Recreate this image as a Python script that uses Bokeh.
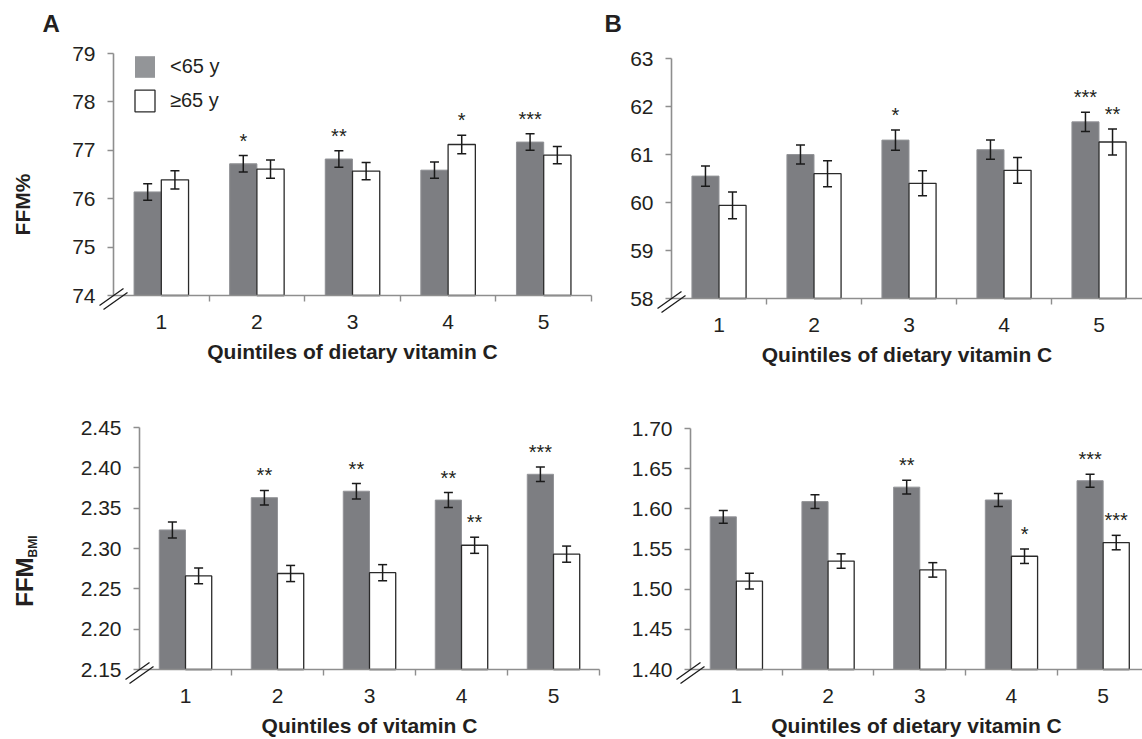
import math
from bokeh.plotting import figure
from bokeh.models import (ColumnDataSource, Range1d, FixedTicker, NumeralTickFormatter,
                          Whisker, TeeHead, Label, Legend, LegendItem, Arrow)
from bokeh.layouts import column, row
from bokeh.core.properties import value
from bokeh.embed import file_html
from bokeh.resources import INLINE

# ---------------- data ----------------
quintiles = ["1", "2", "3", "4", "5"]
group_labels = ["<65 y", "\u226565 y"]

# A, top: FFM%
a_ffm_young = [76.14, 76.72, 76.82, 76.59, 77.17]
a_ffm_young_err = [0.17, 0.17, 0.17, 0.17, 0.17]
a_ffm_old = [76.39, 76.61, 76.57, 77.12, 76.90]
a_ffm_old_err = [0.19, 0.19, 0.18, 0.19, 0.18]
a_ffm_young_sig = ["", "*", "**", "", "***"]
a_ffm_old_sig = ["", "", "", "*", ""]
a_ffm_ticks = [74, 75, 76, 77, 78, 79]

# B, top: FFM%
b_ffm_young = [60.55, 61.00, 61.30, 61.10, 61.68]
b_ffm_young_err = [0.21, 0.20, 0.21, 0.20, 0.20]
b_ffm_old = [59.94, 60.60, 60.40, 60.67, 61.26]
b_ffm_old_err = [0.28, 0.27, 0.26, 0.27, 0.27]
b_ffm_young_sig = ["", "", "*", "", "***"]
b_ffm_old_sig = ["", "", "", "", "**"]
b_ffm_ticks = [58, 59, 60, 61, 62, 63]

# A, bottom: FFM_BMI
a_bmi_young = [2.323, 2.363, 2.371, 2.360, 2.392]
a_bmi_young_err = [0.010, 0.009, 0.0095, 0.0093, 0.009]
a_bmi_old = [2.266, 2.269, 2.270, 2.304, 2.293]
a_bmi_old_err = [0.0097, 0.010, 0.010, 0.010, 0.010]
a_bmi_young_sig = ["", "**", "**", "**", "***"]
a_bmi_old_sig = ["", "", "", "**", ""]
a_bmi_ticks = [2.15, 2.20, 2.25, 2.30, 2.35, 2.40, 2.45]

# B, bottom: FFM_BMI
b_bmi_young = [1.590, 1.609, 1.627, 1.611, 1.635]
b_bmi_young_err = [0.008, 0.0085, 0.0085, 0.008, 0.008]
b_bmi_old = [1.510, 1.535, 1.524, 1.541, 1.558]
b_bmi_old_err = [0.0099, 0.009, 0.009, 0.009, 0.009]
b_bmi_young_sig = ["", "", "**", "", "***"]
b_bmi_old_sig = ["", "", "", "*", "***"]
b_bmi_ticks = [1.40, 1.45, 1.50, 1.55, 1.60, 1.65, 1.70]

# ---------------- style ----------------
FONT = "Liberation Sans"
GRAY = "#7d7e82"
GRAY_EDGE = "#939498"
LEGEND_GRAY = "#939598"
DARK = "#231f20"
AXIS = "#8e8e8e"
BAR_W = 0.285
OFF = BAR_W / 2


def make_panel(young, young_err, old, old_err, young_sig, old_sig, yticks, fmt,
               xlabel, W, H, bl, ft, fh, cat_px):
    """W,H: canvas size; bl: x of axis corner; ft: y of top tick; fh: plot height."""
    xs = [i + 1 for i in range(len(quintiles))]
    ymin, ymax = yticks[0], yticks[-1]
    ppu = fh / (ymax - ymin)
    x_start = 0.5 - bl / cat_px
    x_end = 0.5 + (W - bl) / cat_px
    y_end = ymax + ft / ppu
    y_start = ymin - (H - ft - fh) / ppu
    p = figure(width=W, height=H, x_range=Range1d(x_start, x_end),
               y_range=Range1d(y_start, y_end), output_backend="svg",
               toolbar_location=None, title=None, min_border=0,
               min_border_left=0, min_border_right=0, min_border_top=0,
               min_border_bottom=0, outline_line_color=None)
    p.xgrid.visible = False
    p.ygrid.visible = False

    renderers = []
    sources = []
    for vals, errs, sig, sign, fill, edge, lw in (
            (young, young_err, young_sig, -1, GRAY, GRAY_EDGE, 1),
            (old, old_err, old_sig, 1, "white", "#2a2a2a", 1.3)):
        src = ColumnDataSource(dict(
            x=[x + sign * OFF for x in xs], top=vals,
            up=[v + e for v, e in zip(vals, errs)],
            lo=[v - e for v, e in zip(vals, errs)], sig=sig))
        sources.append(src)
        r = p.vbar(x="x", top="top", bottom=ymin, width=BAR_W, source=src,
                   fill_color=fill, line_color=edge, line_width=lw)
        renderers.append(r)
        wh = Whisker(source=src, base="x", upper="up", lower="lo", dimension="height",
                     line_color="#1a1a1a", line_width=1.5, level="overlay",
                     upper_head=TeeHead(size=9, line_color="#1a1a1a", line_width=1.5),
                     lower_head=TeeHead(size=9, line_color="#1a1a1a", line_width=1.5))
        p.add_layout(wh)
        p.text(x="x", y="up", text="sig", source=src, text_align="center",
               text_baseline="alphabetic", y_offset=-15, text_font=value(FONT),
               text_font_size="20px", text_color=DARK)

    # axes (drawn at fixed data locations so the canvas is all frame)
    xa = p.xaxis[0]
    xa.fixed_location = ymin
    xa.bounds = (0.5, min(len(xs) + 0.5, x_end))
    xa.ticker = FixedTicker(ticks=xs, minor_ticks=[x + 0.5 for x in xs])
    xa.major_label_overrides = {x: q for x, q in zip(xs, quintiles)}
    xa.major_tick_out = 0
    xa.major_tick_in = 0
    xa.minor_tick_out = 6
    xa.minor_tick_in = 0
    xa.major_label_standoff = 13
    xa.axis_label = xlabel
    xa.axis_label_standoff = 8
    xa.axis_label_text_font = FONT
    xa.axis_label_text_font_size = "21px"
    xa.axis_label_text_font_style = "bold"
    xa.axis_label_text_color = DARK

    ya = p.yaxis[0]
    ya.fixed_location = 0.5
    ya.bounds = (ymin, ymax)
    ya.ticker = FixedTicker(ticks=yticks)
    ya.formatter = NumeralTickFormatter(format=fmt)
    ya.major_tick_out = 6
    ya.major_tick_in = 0
    ya.minor_tick_out = 0
    ya.minor_tick_in = 0
    ya.major_label_standoff = 12

    for ax in (xa, ya):
        ax.axis_line_color = AXIS
        ax.axis_line_width = 1.6
        ax.major_tick_line_color = AXIS
        ax.major_tick_line_width = 1.4
        ax.minor_tick_line_color = AXIS
        ax.minor_tick_line_width = 1.4
        ax.major_label_text_font = FONT
        ax.major_label_text_font_size = "21px"
        ax.major_label_text_color = DARK

    # axis break marks "//" at the corner (offsets in pixels from the corner)
    for (sx0, sy0, sx1, sy1) in ((-14, 10, 10, -7), (-10, 14, 14, -3)):
        p.add_layout(Arrow(end=None, x_start=0.5 + sx0 / cat_px, y_start=ymin - sy0 / ppu,
                           x_end=0.5 + sx1 / cat_px, y_end=ymin - sy1 / ppu,
                           line_color="#1a1a1a", line_width=1.3))
    geo = dict(ymin=ymin, ymax=ymax, ppu=ppu, cat_px=cat_px, bl=bl, ft=ft, fh=fh, H=H,
               sources=sources)
    return p, renderers, geo


def panel_letter(p, geo, text, left_px, base_px):
    p.add_layout(Label(x=0.5 + (left_px - geo["bl"]) / geo["cat_px"],
                       y=geo["ymax"] + (geo["ft"] - base_px) / geo["ppu"],
                       text=text, text_align="left", text_baseline="alphabetic",
                       text_font=FONT, text_font_size="24px", text_font_style="bold",
                       text_color=DARK))


# Top-left (A)
p1, r1, g1 = make_panel(
    a_ffm_young, a_ffm_young_err, a_ffm_old, a_ffm_old_err, a_ffm_young_sig,
    a_ffm_old_sig, a_ffm_ticks, "0", "Quintiles of dietary vitamin C",
    600, 385, 113, 53, 242, 95.6)
panel_letter(p1, g1, "A", 42, 23)
p1.add_layout(Label(x=0.5, y=g1["ymin"] + 0.376 * (g1["ymax"] - g1["ymin"]), x_offset=-91,
                    text="FFM%", angle=math.pi / 2, text_align="center",
                    text_baseline="middle", text_font=FONT, text_font_size="21px",
                    text_font_style="bold", text_color=DARK))
# legend swatch for the <65 y group: lighter gray, drawn beneath the identical bars
leg_gray = p1.vbar(x="x", top="top", bottom=g1["ymin"], width=BAR_W,
                   source=g1["sources"][0], fill_color=LEGEND_GRAY, line_color=None,
                   level="underlay")
LEG_H = 2 * 27 + 7
legend = Legend(items=[LegendItem(label=group_labels[0], renderers=[leg_gray]),
                       LegendItem(label=group_labels[1], renderers=[r1[1]])],
                location=(g1["bl"] + 19, g1["H"] - g1["ft"] - LEG_H),
                glyph_width=25, glyph_height=27, spacing=7,
                padding=0, margin=0, label_standoff=13, border_line_color=None,
                background_fill_alpha=0, label_text_font=FONT,
                label_text_font_size="20px", label_text_color=DARK)
p1.add_layout(legend)

# Top-right (B)
p2, r2, g2 = make_panel(
    b_ffm_young, b_ffm_young_err, b_ffm_old, b_ffm_old_err, b_ffm_young_sig,
    b_ffm_old_sig, b_ffm_ticks, "0", "Quintiles of dietary vitamin C",
    542, 385, 71, 58, 240, 95.0)
panel_letter(p2, g2, "B", 4, 23)

# Bottom-left
p3, r3, g3 = make_panel(
    a_bmi_young, a_bmi_young_err, a_bmi_old, a_bmi_old_err, a_bmi_young_sig,
    a_bmi_old_sig, a_bmi_ticks, "0.00", "Quintiles of vitamin C",
    608, 354, 139, 42, 242, 92.0)
ylab_y = g3["ymin"] + 0.463 * (g3["ymax"] - g3["ymin"])
p3.add_layout(Label(x=0.5, y=ylab_y, x_offset=-115, text="FFM", angle=math.pi / 2,
                    text_align="right", text_baseline="alphabetic", text_font=FONT,
                    text_font_size="24px", text_font_style="bold", text_color=DARK))
p3.add_layout(Label(x=0.5, y=ylab_y, x_offset=-107, text="BMI", angle=math.pi / 2,
                    text_align="left", text_baseline="alphabetic", text_font=FONT,
                    text_font_size="12px", text_font_style="bold", text_color=DARK))

# Bottom-right
p4, r4, g4 = make_panel(
    b_bmi_young, b_bmi_young_err, b_bmi_old, b_bmi_old_err, b_bmi_young_sig,
    b_bmi_old_sig, b_bmi_ticks, "0.00", "Quintiles of dietary vitamin C",
    534, 354, 82, 43, 241, 91.7)

layout = column(row(p1, p2), row(p3, p4))
open("out.html", "w").write(file_html(layout, INLINE, title="FFM by vitamin C quintiles"))
